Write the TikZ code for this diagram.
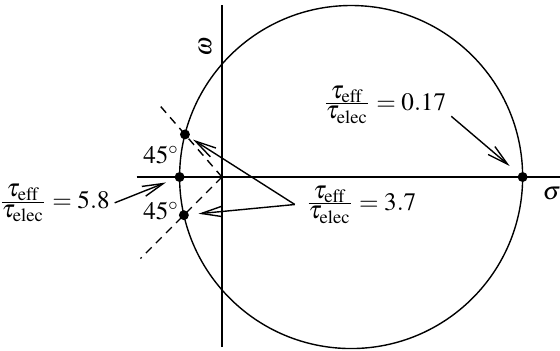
\documentclass[tikz,border=0pt]{standalone}
\usepackage{amsmath}
\usepackage{mathptmx}
\usetikzlibrary{arrows.meta}

\newcommand{\tauratio}{\frac{\textstyle\tau_{\mathrm{eff}}}{\textstyle\tau_{\mathrm{elec}}}}

\begin{document}
\begin{tikzpicture}[
    font=\fontsize{10.8pt}{13pt}\selectfont,
    dot/.style={circle,fill=black,inner sep=0pt,minimum size=0.15cm},
    ratio/.style={inner sep=2pt},
    barb/.style={-{Straight Barb[length=9pt,width=4.5pt]},semithick},
  ]
    \useasboundingbox (-3.352,-2.627) rectangle (5.104,2.673);

    \draw [semithick] (-1.29,0) -- (5.104,0);
    \draw [semithick] (0,-2.567) -- (0,2.597);
    \draw [semithick] (1.95,0) circle (2.59);
    \draw [semithick,dash pattern=on 3.5pt off 2.6pt] (0,0) -- (131:1.49);
    \draw [semithick,dash pattern=on 3.5pt off 2.6pt] (0,0) -- (225:1.74);

    \node (sig) at (4.98,-0.25) {$\sigma$};
    \node [rotate=90] (om) at (-0.25,1.96) {$\omega$};

    \node [dot] (pleft) at (-0.64,0) {};
    \node [dot] (pright) at (4.54,0) {};
    \node [dot] (pup) at (131:0.852) {};
    \node [dot] (pdown) at (225:0.814) {};

    \node (aup) at (-0.92,0.33) {$45^\circ$};
    \node (adown) at (-0.92,-0.52) {$45^\circ$};

    \node [ratio] (r017) at (2.455,1.095) {$\tauratio = 0.17$};
    \node [ratio,anchor=east] (r58) at (-1.62,-0.39) {$\tauratio = 5.8$};
    \node [ratio,anchor=west,inner xsep=4.5pt] (r37) at (1.10,-0.415) {$\tauratio = 3.7$};

    \draw [barb,shorten >=5pt] (r017.-10) -- (pright);
    \draw [barb,shorten >=4pt] (r58.east) -- (pleft);
    \draw [barb,shorten >=1.8pt] (r37.west) -- (pup);
    \draw [barb,shorten >=4pt] (r37.west) -- (pdown);
\end{tikzpicture}
\end{document}
